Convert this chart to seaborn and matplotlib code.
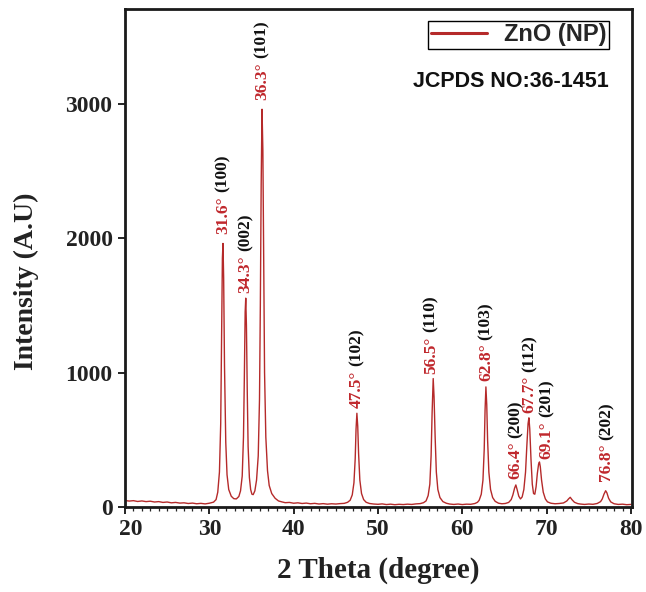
import numpy as np
import pandas as pd
import matplotlib
matplotlib.use("Agg")
import matplotlib.pyplot as plt
import matplotlib.transforms as mtransforms
import seaborn as sns

# ---- data ----
two_theta = [
    20.0, 20.5, 21.0, 21.5, 22.0, 22.5, 23.0, 23.5, 24.0, 24.5, 25.0, 25.5, 26.0, 26.5,
    27.0, 27.5, 28.0, 28.5, 29.0, 29.5, 30.0, 30.5,
    30.8, 31.0, 31.2, 31.35, 31.45, 31.55, 31.62, 31.7, 31.8, 31.95, 32.1, 32.3, 32.6,
    32.9, 33.2, 33.5, 33.7,
    33.9, 34.05, 34.15, 34.25, 34.32, 34.4, 34.5, 34.6, 34.75, 34.9, 35.05, 35.2, 35.4, 35.6,
    35.8, 35.95, 36.05, 36.15, 36.25, 36.35, 36.45, 36.55, 36.7, 36.9, 37.1, 37.4, 37.8,
    38.2, 38.6,
    39.0, 39.5, 40.0, 40.5, 41.0, 41.5, 42.0, 42.5, 43.0, 43.5, 44.0, 44.5, 45.0, 45.5,
    46.0, 46.4,
    46.7, 46.95, 47.15, 47.3, 47.4, 47.5, 47.6, 47.7, 47.85, 48.05, 48.3, 48.6,
    49.0, 49.5, 50.0, 50.5, 51.0, 51.5, 52.0, 52.5, 53.0, 53.5, 54.0, 54.5, 55.0, 55.4,
    55.7, 55.95, 56.15, 56.3, 56.42, 56.55, 56.65, 56.78, 56.92, 57.1, 57.35, 57.7, 58.1,
    58.5, 59.0, 59.5, 60.0, 60.5, 61.0, 61.5, 61.8,
    62.0, 62.25, 62.45, 62.6, 62.7, 62.8, 62.9, 63.0, 63.15, 63.35, 63.6, 63.9, 64.3,
    64.7, 65.1, 65.5, 65.8,
    66.0, 66.2, 66.35, 66.5, 66.7, 66.9, 67.1,
    67.3, 67.5, 67.65, 67.8, 67.9, 68.0, 68.15, 68.3, 68.45, 68.6,
    68.75, 68.9, 69.05, 69.15, 69.25, 69.4, 69.6, 69.85, 70.1,
    70.5, 71.0, 71.5, 72.0, 72.4,
    72.6, 72.8, 73.0, 73.3, 73.7,
    74.0, 74.5, 75.0, 75.5, 76.0, 76.4,
    76.6, 76.8, 77.0, 77.15, 77.35, 77.6, 78.0,
    78.5, 79.0, 79.5, 80.0,
]
intensity = [
    48, 44, 47, 41, 45, 40, 43, 37, 40, 34, 37, 31, 34, 29,
    31, 26, 29, 24, 27, 23, 28, 36,
    55, 110, 260, 620, 1250, 1850, 1960, 1700, 1050, 480, 240, 130, 80,
    62, 60, 78, 120,
    230, 520, 950, 1450, 1553, 1350, 850, 450, 220, 130, 95, 92, 120, 200,
    380, 800, 1500, 2400, 2958, 2650, 1800, 1000, 520, 270, 160, 100, 65,
    45, 38,
    32, 34, 28, 31, 26, 29, 24, 27, 22, 25, 21, 24, 22, 25,
    27, 35,
    50, 90, 180, 360, 580, 697, 600, 400, 200, 100, 55, 35,
    26, 22, 20, 23, 18, 21, 17, 20, 18, 21, 19, 23, 25, 32,
    45, 85, 170, 380, 700, 955, 820, 520, 260, 130, 70, 40, 28,
    22, 19, 22, 18, 21, 20, 26, 35,
    50, 95, 200, 430, 720, 893, 760, 500, 260, 130, 70, 42, 28,
    24, 26, 34, 55,
    90, 140, 164, 130, 80, 60, 75,
    130, 260, 450, 620, 663, 580, 350, 170, 100, 95,
    150, 250, 320, 335, 300, 200, 110, 60, 38,
    28, 24, 26, 30, 45,
    60, 72, 55, 35, 25,
    22, 19, 22, 20, 26, 40,
    60, 95, 121, 105, 65, 38, 24,
    19, 21, 17, 19,
]

peak_angles = ["31.6°", "34.3°", "36.3°", "47.5°", "56.5°", "62.8°", "66.4°", "67.7°", "69.1°", "76.8°"]
peak_hkl = ["(100)", "(002)", "(101)", "(102)", "(110)", "(103)", "(200)", "(112)", "(201)", "(202)"]
label_x = [31.6, 34.3, 36.26, 47.5, 56.3, 62.8, 66.3, 68.0, 70.0, 77.1]
label_y = [2030, 1595, 3028, 739, 992, 935, 205, 697, 357, 191]

x_ticks = [20, 30, 40, 50, 60, 70, 80]
y_ticks = [0, 1000, 2000, 3000]

# ---- plotting ----
sns.set_style("ticks")
plt.rcParams['font.family'] = ['Liberation Serif', 'DejaVu Serif']

df = pd.DataFrame({"2theta": two_theta, "I": intensity})

fig = plt.figure(figsize=(6.46, 5.92), dpi=100)
ax = fig.add_axes([0.1935, 0.1436, 0.7845, 0.8404])

line_color = "#b52a2a"
sns.lineplot(data=df, x="2theta", y="I", ax=ax, color=line_color, linewidth=1.0,
             label="ZnO (NP)", sort=False)

ax.set_xlim(20, 80.1)
ax.set_ylim(0, 3700)
ax.set_xticks(x_ticks)
ax.set_yticks(y_ticks)
ax.set_xticks(np.arange(20, 81, 1), minor=True)
ax.tick_params(axis='both', which='major', direction='out', length=5, width=1.2,
               labelsize=17, colors='black', pad=4)
ax.tick_params(axis='x', which='minor', direction='out', length=3, width=0.9)
for lab in ax.get_xticklabels() + ax.get_yticklabels():
    lab.set_fontweight('bold')
    lab.set_color('#222222')
# first x label sits a little right of its tick in the reference
first = ax.get_xticklabels()[0]
first.set_transform(first.get_transform() +
                    mtransforms.ScaledTranslation(6 / 100, 0, fig.dpi_scale_trans))

for sp in ax.spines.values():
    sp.set_visible(True)
    sp.set_linewidth(2.0)
    sp.set_color('#1a1a1a')

ax.set_xlabel("2 Theta (degree)", fontsize=21, fontweight='bold', color='#222222', labelpad=12)
ax.set_ylabel("Intensity (A.U)", fontsize=20, fontweight='bold', color='#222222')
ax.yaxis.set_label_coords(-0.169, 0.454)

leg = ax.legend(loc='upper right', bbox_to_anchor=(0.9546, 0.977), borderaxespad=0,
                frameon=True, fancybox=False, edgecolor='black', framealpha=1,
                prop={'family': 'Liberation Sans', 'size': 17, 'weight': 'bold'},
                handlelength=2.4, handletextpad=0.7, borderpad=0.1)
leg.get_frame().set_linewidth(1.0)
for h in leg.get_lines():
    h.set_linewidth(2.2)

ax.text(0.761, 0.856, "JCPDS NO:36-1451", transform=ax.transAxes, ha='center', va='center',
        fontsize=15.5, fontweight='bold', family='Liberation Sans', color='#111111')

# peak labels: red angle + black hkl, rotated
fig.canvas.draw()
renderer = fig.canvas.get_renderer()
for xa, ya, ang, hkl in zip(label_x, label_y, peak_angles, peak_hkl):
    t1 = ax.text(xa, ya, ang, rotation=90, ha='center', va='bottom', fontsize=12.5,
                 fontweight='bold', color='#c0282d')
    bb = t1.get_window_extent(renderer=renderer)
    top_disp = ax.transData.transform((xa, ya))[1] + bb.height + 4
    y2 = ax.transData.inverted().transform((0, top_disp))[1]
    ax.text(xa, y2, hkl, rotation=90, ha='center', va='bottom', fontsize=12.5,
            fontweight='bold', color='#111111')

fig.savefig("out.png", dpi=100)
